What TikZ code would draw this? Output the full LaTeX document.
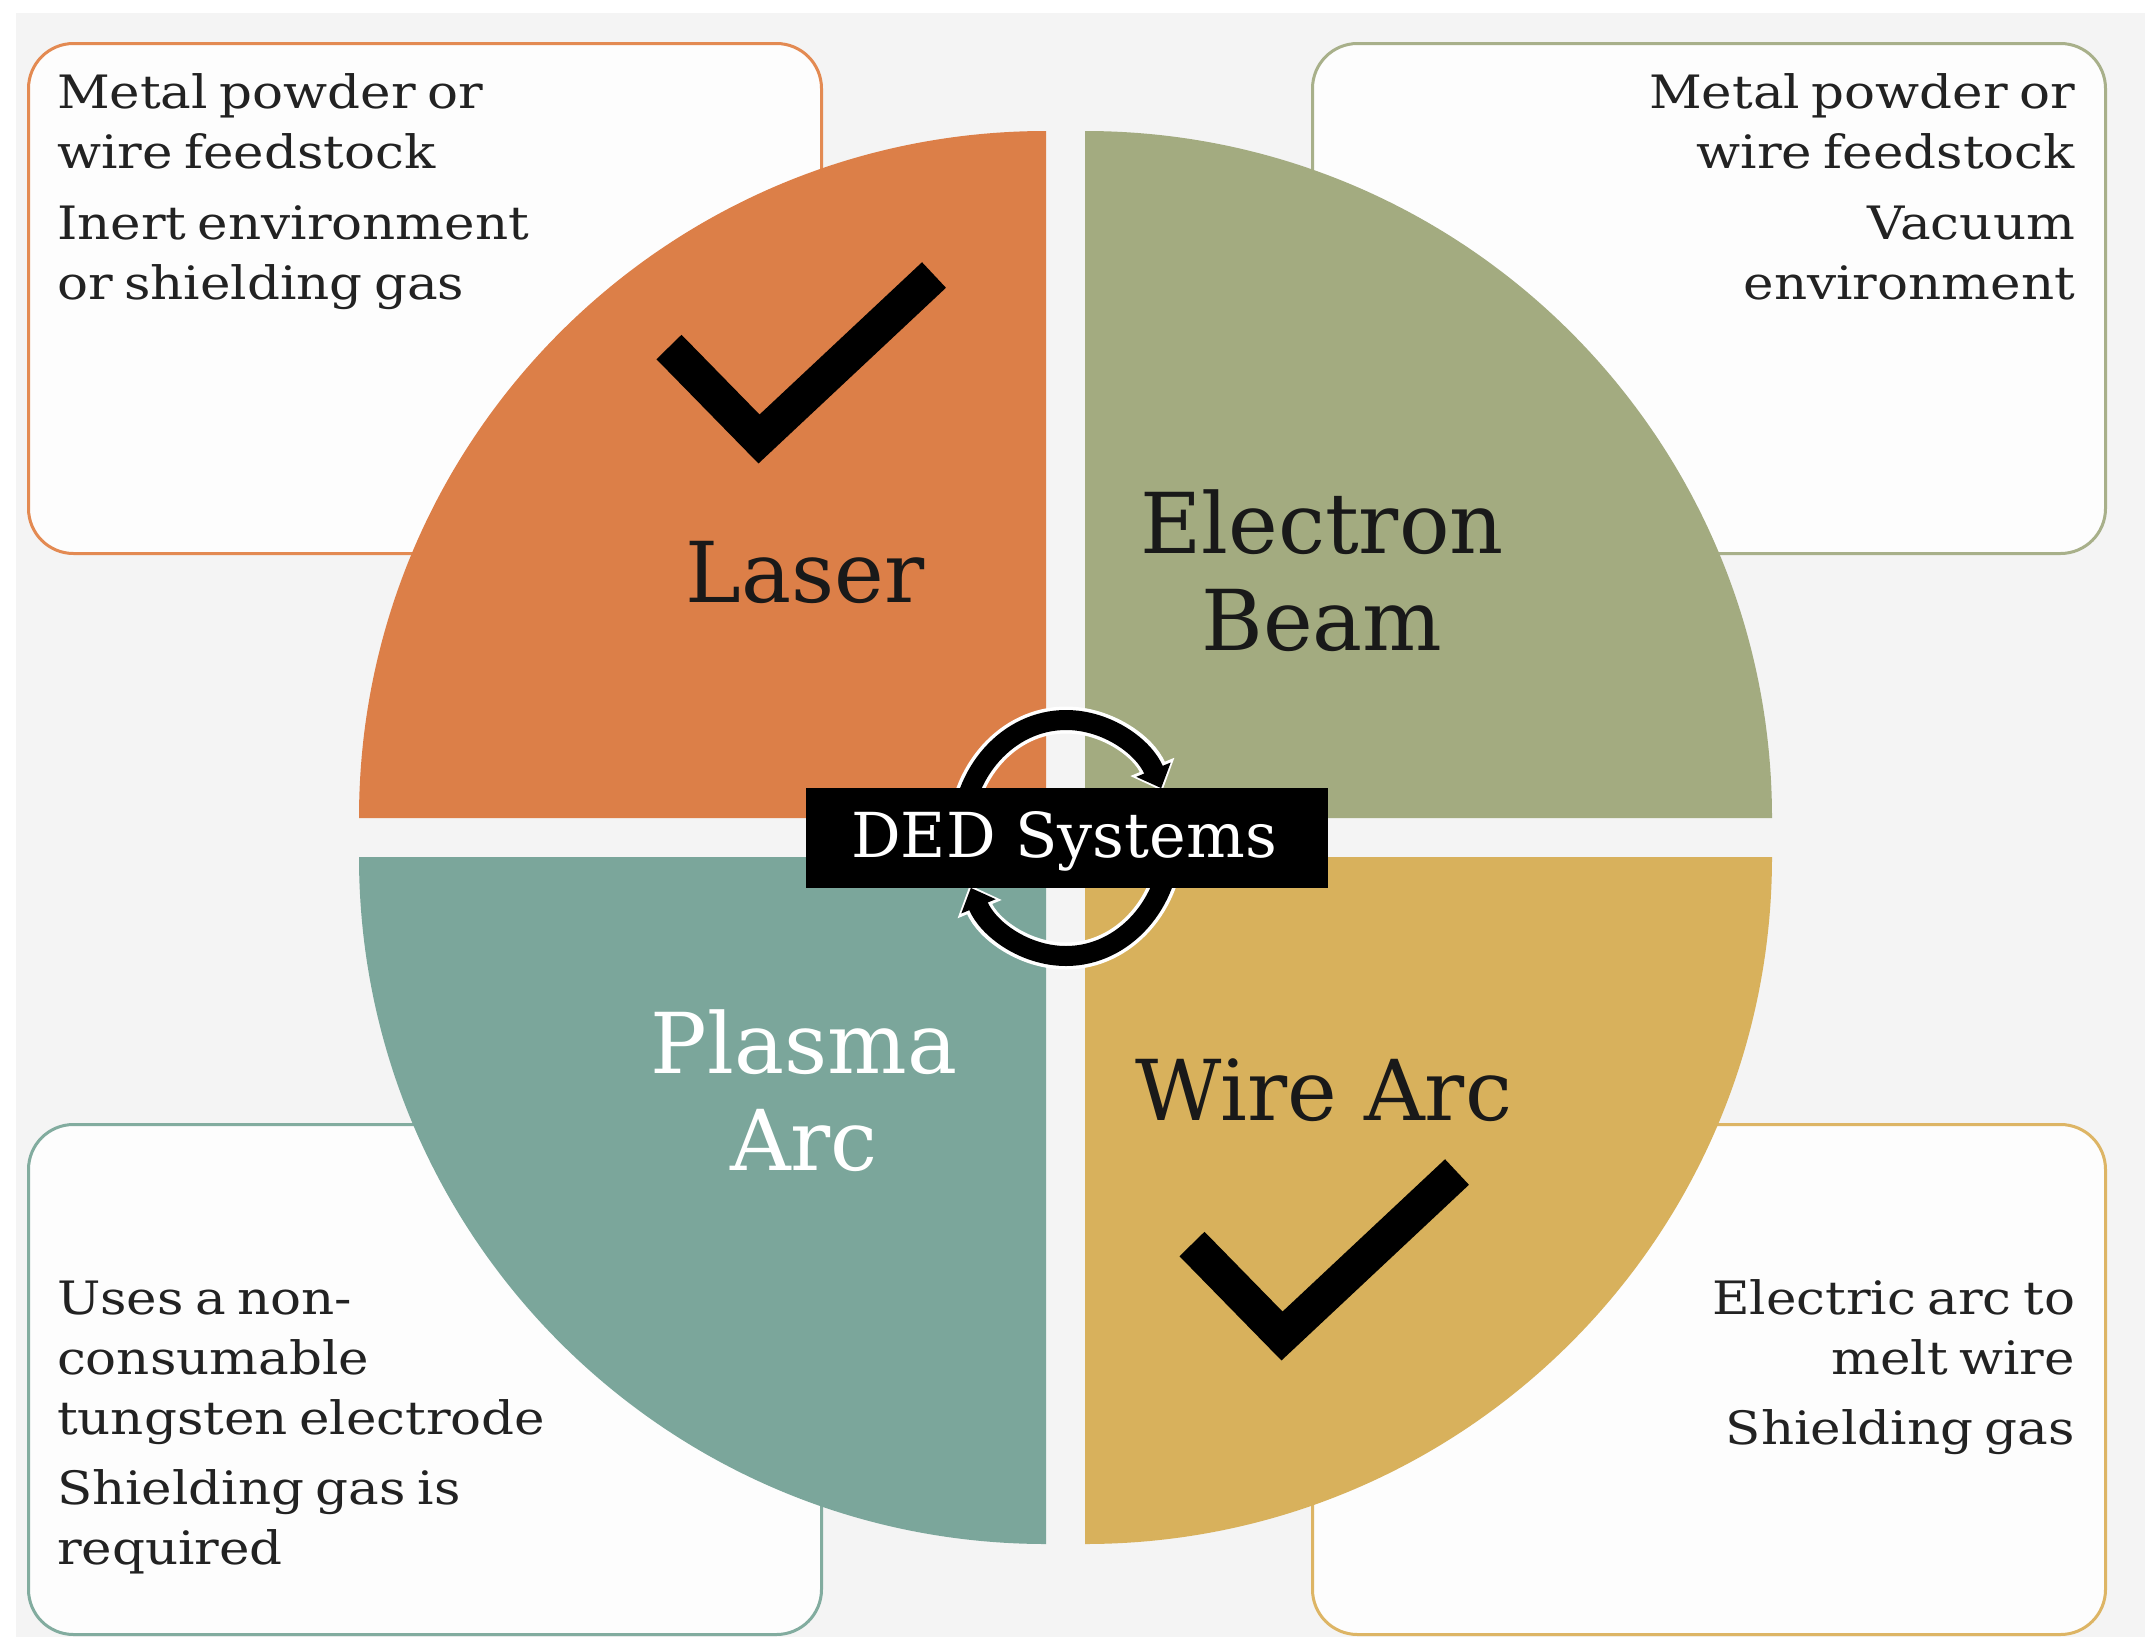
\documentclass[tikz,border=0pt]{standalone}
\usepackage{fontspec}
\setmainfont{DejaVu Serif}
\newfontfamily\bodyfont[FakeStretch=1.12, WordSpace=0.7]{DejaVu Serif}
\usetikzlibrary{arrows.meta}
\definecolor{bgc}{HTML}{F4F4F4}
\definecolor{boxfill}{HTML}{FDFDFD}
\definecolor{laserc}{HTML}{DC7F48}
\definecolor{laserbd}{HTML}{E38A52}
\definecolor{ebeamc}{HTML}{A3AB80}
\definecolor{ebeambd}{HTML}{A8B08A}
\definecolor{plasmac}{HTML}{7BA69B}
\definecolor{plasmabd}{HTML}{82AC9F}
\definecolor{wirec}{HTML}{D8B15C}
\definecolor{wirebd}{HTML}{DDB565}
\definecolor{txtc}{HTML}{222222}
\tikzset{
  infobox/.style={fill=boxfill, line width=3pt, rounded corners=45pt, inner sep=0pt,
    minimum width=793pt, minimum height=510pt, anchor=north west},
  bodyl/.style={inner sep=0pt, outer sep=0pt, anchor=base west, text=txtc,
    font=\bodyfont\fontsize{46}{60}\selectfont},
  bodyr/.style={bodyl, anchor=base east},
  biglbl/.style={inner sep=0pt, outer sep=0pt, anchor=base, text=black!90,
    font=\fontsize{84}{97}\selectfont},
  checkmk/.style={line width=35pt, black, line join=miter, line cap=butt},
  ringblk/.style={line width=20pt, black, -{Triangle[width=36pt,length=20pt]}},
  ringhalo/.style={line width=27pt, white, shorten >=-3pt, -{Triangle[width=46pt,length=26pt]}},
  dedtxt/.style={inner sep=0pt, outer sep=0pt, anchor=base, text=white,
    font=\fontsize{62}{70}\selectfont}
}
\begin{document}
\begin{tikzpicture}[x=1pt,y=-1pt]
\useasboundingbox (0,0) rectangle (2156,1649);
\fill[white] (0,0) rectangle (2156,1649);
\fill[bgc] (16,13) rectangle (2145,1637);

% info boxes
\node[infobox, draw=laserbd] (boxTL) at (27,42) {};
\node[infobox, draw=ebeambd] (boxTR) at (1311,42) {};
\node[infobox, draw=plasmabd] (boxBL) at (27,1123) {};
\node[infobox, draw=wirebd] (boxBR) at (1311,1123) {};

% quadrants
\fill[laserc] (1046,818) -- ++(-687,0) arc[start angle=180, end angle=270, radius=687] -- cycle;
\fill[ebeamc] (1085,818) -- ++(0,-687) arc[start angle=270, end angle=360, radius=687] -- cycle;
\fill[plasmac] (1046,857) -- ++(-687,0) arc[start angle=180, end angle=90, radius=687] -- cycle;
\fill[wirec] (1085,857) -- ++(687,0) arc[start angle=0, end angle=90, radius=687] -- cycle;

% check marks
\draw[checkmk] (669,347) -- (759,439) -- (934,275);
\draw[checkmk] (1192,1244) -- (1282,1336) -- (1457,1172);

% quadrant labels
\node[biglbl] (laser) at (805,602) {Laser};
\node[biglbl] (eb1) at (1322,553) {Electron};
\node[biglbl] (eb2) at (1322,650) {Beam};
\node[biglbl, text=white] (pa1) at (804,1073) {Plasma};
\node[biglbl, text=white] (pa2) at (804,1170) {Arc};
\node[biglbl] (wa) at (1324,1120) {Wire Arc};

% box texts
\node[bodyl] (tl1) at (57,108) {Metal powder or};
\node[bodyl] (tl2) at (57,168) {wire feedstock};
\node[bodyl] (tl3) at (57,239) {Inert environment};
\node[bodyl] (tl4) at (57,299) {or shielding gas};

\node[bodyr] (tr1) at (2075,108) {Metal powder or};
\node[bodyr] (tr2) at (2075,168) {wire feedstock};
\node[bodyr] (tr3) at (2075,239) {Vacuum};
\node[bodyr] (tr4) at (2075,299) {environment};

\node[bodyl] (bl1) at (57,1314) {Uses a non-};
\node[bodyl] (bl2) at (57,1374) {consumable};
\node[bodyl] (bl3) at (57,1434) {tungsten electrode};
\node[bodyl] (bl4) at (57,1504) {Shielding gas is};
\node[bodyl] (bl5) at (57,1564) {required};

\node[bodyr] (br1) at (2075,1314) {Electric arc to};
\node[bodyr] (br2) at (2075,1374) {melt wire};
\node[bodyr] (br3) at (2075,1444) {Shielding gas};

% cycle arrows
\coordinate (ringc) at (1066,838);
\draw[ringhalo] ([shift={(180:105 and 118)}]ringc) arc[start angle=180, end angle=335, x radius=105, y radius=118];
\draw[ringhalo] ([shift={(0:105 and 118)}]ringc) arc[start angle=0, end angle=155, x radius=105, y radius=118];
\draw[ringblk] ([shift={(180:105 and 118)}]ringc) arc[start angle=180, end angle=335, x radius=105, y radius=118];
\draw[ringblk] ([shift={(0:105 and 118)}]ringc) arc[start angle=0, end angle=155, x radius=105, y radius=118];

% centre label
\node[fill=black, inner sep=0pt, minimum width=522pt, minimum height=100pt] (dedbox) at (1067,838) {};
\node[dedtxt] (ded) at (1064,857) {DED Systems};
\end{tikzpicture}
\end{document}
